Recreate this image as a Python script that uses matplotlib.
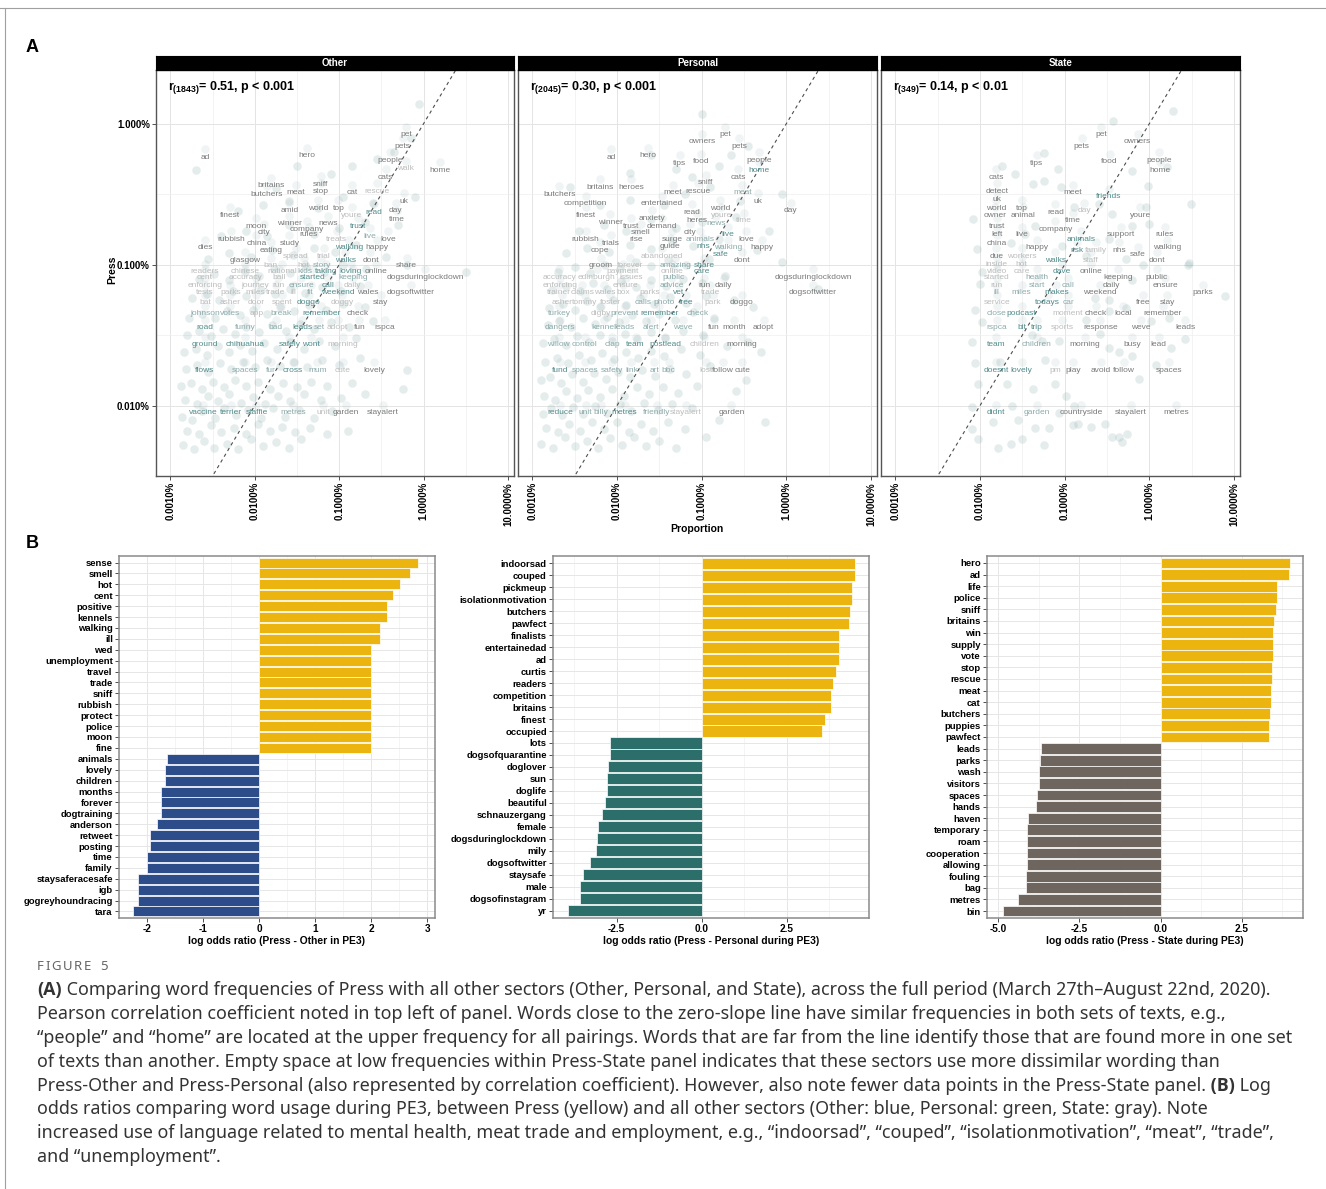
import numpy as np
import matplotlib.pyplot as plt
from matplotlib import transforms
from matplotlib.lines import Line2D

plt.rcParams['font.family'] = ['Liberation Sans', 'DejaVu Sans']
plt.rcParams['mathtext.fontset'] = 'custom'
plt.rcParams['mathtext.rm'] = 'Liberation Sans'
plt.rcParams['mathtext.bf'] = 'Liberation Sans:bold'

# ---------------- panel A data: log10(proportion), x = other sector, y = Press
# tone: t = close to the line (teal), m = in between, l = light grey, g = far from the line
other_words = [
    ('ad', -4.59, -2.24, 'g'), ('hero', -3.38, -2.23, 'g'), ('pet', -2.21, -2.08, 'g'), ('pets', -2.25, -2.16, 'g'),
    ('people', -2.40, -2.26, 'g'), ('walk', -2.21, -2.32, 'l'), ('home', -1.81, -2.33, 'g'), ('cats', -2.45, -2.38, 'g'),
    ('britains', -3.81, -2.44, 'g'), ('butchers', -3.86, -2.50, 'g'), ('meat', -3.51, -2.49, 'g'), ('sniff', -3.22, -2.43, 'g'),
    ('stop', -3.22, -2.48, 'g'), ('cat', -2.85, -2.49, 'g'), ('rescue', -2.55, -2.48, 'l'), ('uk', -2.23, -2.55, 'g'),
    ('finest', -4.29, -2.65, 'g'), ('amid', -3.59, -2.62, 'g'), ('world', -3.25, -2.60, 'g'), ('top', -3.01, -2.60, 'g'),
    ('youre', -2.85, -2.65, 'l'), ('read', -2.59, -2.63, 't'), ('day', -2.33, -2.62, 'g'), ('time', -2.32, -2.68, 'g'),
    ('moon', -3.99, -2.73, 'g'), ('city', -3.89, -2.77, 'g'), ('winner', -3.59, -2.71, 'g'), ('news', -3.13, -2.71, 'g'),
    ('company', -3.38, -2.75, 'g'), ('rules', -3.36, -2.79, 'g'), ('trust', -2.78, -2.73, 't'), ('rubbish', -4.28, -2.82, 'g'),
    ('china', -3.98, -2.85, 'g'), ('study', -3.59, -2.85, 'g'), ('treats', -3.03, -2.82, 'l'), ('live', -2.64, -2.80, 'm'),
    ('love', -2.42, -2.82, 'g'), ('dies', -4.59, -2.88, 'g'), ('eating', -3.81, -2.90, 'g'), ('spread', -3.51, -2.94, 'l'),
    ('trial', -3.18, -2.94, 'l'), ('walking', -2.88, -2.88, 't'), ('happy', -2.55, -2.88, 'g'), ('glasgow', -4.11, -2.97, 'g'),
    ('walks', -2.93, -2.97, 't'), ('dont', -2.63, -2.97, 'g'), ('ban', -3.81, -3.01, 'l'), ('hot', -3.42, -3.01, 'l'),
    ('story', -3.21, -3.01, 'm'), ('share', -2.20, -3.01, 'g'),
    ('readers', -4.59, -3.05, 'l'), ('chinese', -4.11, -3.05, 'l'), ('national', -3.68, -3.05, 'l'), ('kids', -3.41, -3.05, 'm'),
    ('taking', -3.16, -3.05, 't'), ('loving', -2.86, -3.05, 't'), ('online', -2.57, -3.05, 'g'), ('cent', -4.59, -3.09, 'l'),
    ('accuracy', -4.11, -3.09, 'l'), ('ball', -3.71, -3.09, 'l'), ('started', -3.31, -3.09, 't'), ('keeping', -2.84, -3.09, 'm'),
    ('dogsduringlockdown', -1.98, -3.09, 'g'), ('enforcing', -4.59, -3.15, 'l'), ('journey', -3.99, -3.15, 'l'), ('run', -3.72, -3.15, 'l'),
    ('ensure', -3.45, -3.15, 'm'), ('call', -3.13, -3.15, 't'), ('daily', -2.84, -3.15, 'l'), ('tests', -4.59, -3.20, 'l'),
    ('parks', -4.29, -3.20, 'l'), ('miles', -3.99, -3.20, 'l'), ('trade', -3.75, -3.20, 'l'), ('ill', -3.54, -3.20, 'l'),
    ('fit', -3.34, -3.20, 'm'), ('weekend', -3.02, -3.20, 't'), ('wales', -2.66, -3.20, 'g'), ('dogsoftwitter', -2.15, -3.20, 'g'),
    ('bat', -4.59, -3.27, 'l'), ('asher', -4.29, -3.27, 'l'), ('door', -3.98, -3.27, 'l'), ('spent', -3.68, -3.27, 'l'),
    ('doggo', -3.36, -3.27, 't'), ('doggy', -2.97, -3.27, 'l'), ('stay', -2.51, -3.27, 'g'), ('johnson', -4.59, -3.35, 'm'),
    ('votes', -4.29, -3.35, 'm'), ('app', -3.98, -3.35, 'l'), ('break', -3.69, -3.35, 'm'), ('remember', -3.21, -3.35, 't'),
    ('check', -2.78, -3.35, 'g'), ('road', -4.59, -3.45, 't'), ('funny', -4.11, -3.45, 'm'), ('bad', -3.75, -3.45, 'm'),
    ('leads', -3.44, -3.45, 't'), ('set', -3.24, -3.45, 'm'), ('adopt', -3.02, -3.45, 'l'), ('fun', -2.76, -3.45, 'g'),
    ('rspca', -2.46, -3.45, 'g'), ('ground', -4.59, -3.57, 't'), ('chihuahua', -4.11, -3.57, 't'), ('safely', -3.59, -3.57, 't'),
    ('wont', -3.33, -3.57, 't'), ('morning', -2.96, -3.57, 'l'), ('flows', -4.59, -3.75, 't'), ('spaces', -4.11, -3.75, 'm'),
    ('fur', -3.81, -3.75, 'm'), ('cross', -3.55, -3.75, 't'), ('mum', -3.26, -3.75, 'm'), ('cute', -2.96, -3.75, 'l'),
    ('lovely', -2.59, -3.75, 'g'), ('vaccine', -4.61, -4.05, 't'), ('terrier', -4.28, -4.05, 't'), ('staffie', -3.98, -4.05, 't'),
    ('metres', -3.55, -4.05, 'm'), ('unit', -3.19, -4.05, 'l'), ('garden', -2.92, -4.05, 'g'), ('stayalert', -2.48, -4.05, 'g'),
]

other_cloud = [
    (-4.85, -4.28), (-4.72, -4.31), (-4.6, -4.25), (-4.48, -4.3), (-4.33, -4.27), (-4.2, -4.31), (-4.05, -4.24), (-3.9, -4.29),
    (-3.75, -4.26), (-3.6, -4.3), (-3.45, -4.24), (-4.8, -4.18), (-4.66, -4.2), (-4.52, -4.14), (-4.4, -4.19), (-4.25, -4.16),
    (-4.1, -4.2), (-3.96, -4.13), (-3.82, -4.18), (-3.68, -4.15), (-3.52, -4.19), (-3.35, -4.16), (-3.15, -4.2), (-2.9, -4.18),
    (-4.86, -4.08), (-4.74, -4.1), (-4.62, -4.04), (-4.47, -4.09), (-4.36, -4.02), (-4.22, -4.07), (-4.08, -4.03), (-3.93, -4.09),
    (-3.79, -4.02), (-3.64, -4.08), (-3.48, -4.03), (-3.3, -4.09), (-3.08, -4.04), (-4.83, -3.96), (-4.69, -3.99), (-4.56, -3.93),
    (-4.43, -3.97), (-4.3, -3.92), (-4.16, -3.98), (-4.02, -3.94), (-3.88, -3.99), (-3.73, -3.93), (-3.58, -3.97), (-3.42, -3.92),
    (-3.22, -3.96), (-2.98, -3.95), (-2.7, -3.92), (-4.87, -3.86), (-4.76, -3.84), (-4.63, -3.88), (-4.5, -3.83), (-4.37, -3.87),
    (-4.24, -3.82), (-4.1, -3.86), (-3.96, -3.83), (-3.82, -3.88), (-3.67, -3.84), (-3.5, -3.87), (-3.34, -3.83), (-3.14, -3.86),
    (-2.85, -3.84), (-4.82, -3.74), (-4.68, -3.71), (-4.55, -3.76), (-4.41, -3.7), (-4.28, -3.74), (-4.14, -3.69), (-4.0, -3.73),
    (-3.86, -3.68), (-3.7, -3.72), (-3.54, -3.69), (-3.38, -3.73), (-3.2, -3.68), (-3.0, -3.71), (-2.75, -3.66), (-4.84, -3.62),
    (-4.7, -3.6), (-4.57, -3.64), (-4.44, -3.58), (-4.3, -3.62), (-4.17, -3.57), (-4.03, -3.61), (-3.89, -3.56), (-3.74, -3.6),
    (-3.58, -3.55), (-3.42, -3.6), (-3.24, -3.54), (-3.05, -3.58), (-2.8, -3.52), (-4.8, -3.5), (-4.66, -3.47), (-4.52, -3.51),
    (-4.38, -3.46), (-4.24, -3.49), (-4.1, -3.44), (-3.95, -3.48), (-3.8, -3.43), (-3.63, -3.47), (-3.47, -3.42), (-3.3, -3.46),
    (-3.1, -3.41), (-2.88, -3.44), (-2.6, -3.4), (-4.78, -3.38), (-4.62, -3.35), (-4.47, -3.38), (-4.33, -3.33), (-4.18, -3.36),
    (-4.02, -3.32), (-3.86, -3.35), (-3.7, -3.3), (-3.53, -3.33), (-3.36, -3.29), (-3.16, -3.32), (-2.95, -3.28), (-2.7, -3.3),
    (-4.74, -3.24), (-4.57, -3.21), (-4.42, -3.25), (-4.26, -3.19), (-4.1, -3.22), (-3.93, -3.18), (-3.76, -3.21), (-3.58, -3.17),
    (-3.4, -3.2), (-3.2, -3.16), (-2.98, -3.19), (-2.75, -3.15), (-4.66, -3.1), (-4.48, -3.07), (-4.3, -3.11), (-4.12, -3.05),
    (-3.95, -3.08), (-3.77, -3.03), (-3.58, -3.06), (-3.39, -3.02), (-3.18, -3.05), (-2.95, -3.0), (-2.68, -3.03), (-4.55, -2.96),
    (-4.3, -2.92), (-4.05, -2.95), (-3.8, -2.9), (-3.55, -2.93), (-3.3, -2.88), (-3.05, -2.91), (-2.8, -2.86), (-2.45, -2.95),
    (-2.2, -3.0), (-4.4, -2.8), (-4.1, -2.76), (-3.85, -2.8), (-3.6, -2.72), (-3.3, -2.78), (-3.0, -2.74), (-2.7, -2.7),
    (-2.3, -2.72), (-4.2, -2.62), (-3.9, -2.58), (-3.6, -2.55), (-3.25, -2.6), (-2.95, -2.52), (-2.6, -2.56), (-2.1, -2.52),
    (-4.7, -2.33), (-3.75, -2.46), (-3.5, -2.3), (-3.1, -2.36), (-2.85, -2.3), (-2.55, -2.25), (-2.35, -2.2), (-2.15, -2.1),
    (-2.05, -1.86), (-1.5, -3.05), (-2.2, -3.75), (-2.25, -3.88),
]

personal_words = [
    ('pet', -2.72, -2.08, 'g'), ('owners', -3.00, -2.13, 'g'), ('pets', -2.56, -2.16, 'g'), ('ad', -4.07, -2.24, 'g'),
    ('hero', -3.64, -2.23, 'g'), ('tips', -3.26, -2.28, 'g'), ('food', -3.01, -2.27, 'g'), ('people', -2.32, -2.26, 'g'),
    ('home', -2.32, -2.33, 't'), ('cats', -2.57, -2.38, 'g'), ('britains', -4.20, -2.45, 'g'), ('heroes', -3.83, -2.45, 'g'),
    ('sniff', -2.95, -2.42, 'g'), ('butchers', -4.68, -2.50, 'g'), ('meet', -3.34, -2.49, 'g'), ('rescue', -3.04, -2.48, 'g'),
    ('meat', -2.52, -2.49, 'm'), ('uk', -2.34, -2.55, 'g'), ('competition', -4.37, -2.57, 'g'), ('entertained', -3.47, -2.57, 'g'),
    ('day', -1.95, -2.62, 'g'), ('finest', -4.37, -2.65, 'g'), ('read', -3.12, -2.63, 'g'), ('world', -2.78, -2.60, 'g'),
    ('youre', -2.77, -2.65, 'l'), ('anxiety', -3.59, -2.67, 'g'), ('heres', -3.06, -2.69, 'g'), ('news', -2.83, -2.71, 'm'),
    ('time', -2.50, -2.69, 'l'), ('winner', -4.08, -2.70, 'g'), ('trust', -3.84, -2.73, 'g'), ('demand', -3.47, -2.73, 'g'),
    ('smell', -3.72, -2.77, 'g'), ('city', -3.14, -2.77, 'g'), ('rubbish', -4.37, -2.82, 'g'), ('trials', -4.07, -2.85, 'g'),
    ('rise', -3.77, -2.82, 'g'), ('surge', -3.35, -2.82, 'g'), ('animals', -3.02, -2.82, 'm'), ('live', -2.69, -2.79, 't'),
    ('love', -2.48, -2.82, 'g'), ('guide', -3.37, -2.87, 'g'), ('cope', -4.20, -2.90, 'g'), ('nhs', -2.98, -2.87, 't'),
    ('walking', -2.69, -2.88, 'm'), ('happy', -2.29, -2.88, 'g'), ('abandoned', -3.47, -2.94, 'l'), ('safe', -2.78, -2.93, 't'),
    ('dont', -2.52, -2.97, 'g'), ('groom', -4.19, -3.01, 'g'), ('forever', -3.85, -3.01, 'l'), ('amazing', -3.31, -3.01, 'm'),
    ('share', -2.97, -3.01, 't'),
    ('payment', -3.93, -3.05, 'l'), ('online', -3.35, -3.05, 'l'), ('care', -3.00, -3.05, 't'), ('accuracy', -4.68, -3.09, 'l'),
    ('edinburgh', -4.24, -3.09, 'l'), ('issues', -3.83, -3.09, 'l'), ('public', -3.33, -3.09, 'm'), ('dogsduringlockdown', -1.68, -3.09, 'g'),
    ('enforcing', -4.67, -3.15, 'l'), ('ensure', -3.90, -3.15, 'l'), ('advice', -3.35, -3.15, 'm'), ('run', -2.97, -3.15, 'g'),
    ('daily', -2.74, -3.15, 'g'), ('trainer', -4.69, -3.20, 'l'), ('claims', -4.41, -3.20, 'l'), ('wales', -4.15, -3.20, 'l'),
    ('box', -3.93, -3.20, 'l'), ('parks', -3.61, -3.20, 'l'), ('vet', -3.27, -3.20, 't'), ('trade', -2.90, -3.20, 'l'),
    ('dogsoftwitter', -1.69, -3.20, 'g'), ('asher', -4.65, -3.27, 'l'), ('tommy', -4.38, -3.27, 'l'), ('foster', -4.08, -3.27, 'l'),
    ('calls', -3.69, -3.27, 'm'), ('photo', -3.44, -3.27, 'm'), ('free', -3.18, -3.27, 't'), ('park', -2.87, -3.27, 'l'),
    ('doggo', -2.53, -3.27, 'g'), ('turkey', -4.68, -3.35, 'm'), ('digby', -4.19, -3.35, 'l'), ('prevent', -3.91, -3.35, 'm'),
    ('remember', -3.50, -3.35, 't'), ('check', -3.05, -3.35, 'm'), ('dangers', -4.67, -3.45, 'm'), ('kennel', -4.15, -3.45, 'm'),
    ('leads', -3.91, -3.45, 'm'), ('alert', -3.60, -3.45, 'm'), ('weve', -3.22, -3.45, 'm'), ('fun', -2.86, -3.45, 'g'),
    ('month', -2.62, -3.45, 'g'), ('adopt', -2.27, -3.45, 'g'), ('willow', -4.69, -3.57, 'm'), ('control', -4.38, -3.57, 'm'),
    ('clap', -4.06, -3.57, 'm'), ('team', -3.78, -3.57, 't'), ('postlead', -3.43, -3.57, 't'), ('children', -2.97, -3.57, 'l'),
    ('morning', -2.53, -3.57, 'g'), ('fund', -4.67, -3.75, 't'), ('spaces', -4.38, -3.75, 'm'), ('safety', -4.06, -3.75, 'm'),
    ('link', -3.83, -3.75, 'm'), ('art', -3.56, -3.75, 'm'), ('bbc', -3.39, -3.75, 'm'), ('lost', -2.95, -3.75, 'l'),
    ('follow', -2.75, -3.75, 'g'), ('cute', -2.52, -3.75, 'g'), ('reduce', -4.67, -4.05, 't'), ('unit', -4.37, -4.05, 'm'),
    ('billy', -4.19, -4.05, 'm'), ('metres', -3.91, -4.05, 't'), ('friendly', -3.53, -4.05, 'm'), ('stayalert', -3.19, -4.05, 'l'),
    ('garden', -2.65, -4.05, 'g'),
]

personal_cloud = [
    (-4.9, -4.27), (-4.76, -4.3), (-4.62, -4.22), (-4.5, -4.29), (-4.36, -4.25), (-4.22, -4.3), (-4.08, -4.23), (-3.94, -4.28),
    (-3.8, -4.22), (-3.66, -4.29), (-3.5, -4.25), (-3.3, -4.3), (-4.84, -4.16), (-4.7, -4.19), (-4.57, -4.13), (-4.44, -4.18),
    (-4.3, -4.12), (-4.15, -4.17), (-4.0, -4.12), (-3.86, -4.19), (-3.72, -4.13), (-3.57, -4.18), (-3.4, -4.12), (-3.2, -4.17),
    (-2.95, -4.22), (-4.88, -4.06), (-4.78, -4.02), (-4.65, -4.07), (-4.52, -4.01), (-4.4, -4.06), (-4.26, -4.0), (-4.12, -4.05),
    (-3.97, -3.99), (-3.83, -4.04), (-3.68, -3.98), (-3.52, -4.03), (-3.35, -3.99), (-3.12, -4.02), (-2.8, -4.1), (-4.86, -3.93),
    (-4.73, -3.96), (-4.6, -3.9), (-4.47, -3.95), (-4.34, -3.89), (-4.2, -3.94), (-4.06, -3.88), (-3.92, -3.93), (-3.77, -3.87),
    (-3.62, -3.92), (-3.46, -3.87), (-3.28, -3.91), (-3.05, -3.86), (-2.6, -3.9), (-4.9, -3.82), (-4.79, -3.8), (-4.66, -3.84),
    (-4.53, -3.78), (-4.4, -3.83), (-4.27, -3.77), (-4.13, -3.81), (-3.99, -3.76), (-3.85, -3.8), (-3.7, -3.75), (-3.55, -3.79),
    (-3.38, -3.74), (-3.18, -3.78), (-2.9, -3.72), (-4.85, -3.69), (-4.71, -3.66), (-4.58, -3.7), (-4.45, -3.64), (-4.31, -3.68),
    (-4.18, -3.63), (-4.04, -3.67), (-3.9, -3.62), (-3.75, -3.66), (-3.6, -3.61), (-3.44, -3.65), (-3.25, -3.6), (-3.02, -3.64),
    (-2.7, -3.58), (-4.87, -3.56), (-4.74, -3.53), (-4.6, -3.57), (-4.47, -3.51), (-4.33, -3.55), (-4.2, -3.5), (-4.06, -3.54),
    (-3.91, -3.49), (-3.76, -3.53), (-3.6, -3.48), (-3.43, -3.52), (-3.22, -3.47), (-2.98, -3.5), (-2.45, -3.55), (-4.82, -3.43),
    (-4.68, -3.4), (-4.54, -3.44), (-4.4, -3.38), (-4.26, -3.42), (-4.12, -3.37), (-3.98, -3.41), (-3.82, -3.36), (-3.66, -3.4),
    (-3.5, -3.35), (-3.32, -3.39), (-3.1, -3.34), (-2.85, -3.38), (-2.4, -3.3), (-4.8, -3.31), (-4.64, -3.28), (-4.5, -3.32),
    (-4.35, -3.26), (-4.2, -3.3), (-4.05, -3.25), (-3.9, -3.29), (-3.73, -3.24), (-3.56, -3.28), (-3.38, -3.23), (-3.18, -3.27),
    (-2.95, -3.22), (-2.62, -3.25), (-4.77, -3.18), (-4.6, -3.15), (-4.44, -3.19), (-4.28, -3.13), (-4.12, -3.17), (-3.95, -3.12),
    (-3.78, -3.16), (-3.6, -3.11), (-3.42, -3.15), (-3.22, -3.1), (-3.0, -3.13), (-2.72, -3.08), (-4.7, -3.05), (-4.5, -3.02),
    (-4.32, -3.06), (-4.14, -3.0), (-3.96, -3.03), (-3.78, -2.98), (-3.6, -3.01), (-3.4, -2.97), (-3.18, -3.0), (-2.92, -2.96),
    (-4.6, -2.92), (-4.35, -2.88), (-4.1, -2.91), (-3.85, -2.86), (-3.6, -2.89), (-3.35, -2.84), (-3.1, -2.87), (-2.8, -2.82),
    (-2.35, -2.9), (-2.05, -2.98), (-4.45, -2.76), (-4.15, -2.72), (-3.9, -2.76), (-3.6, -2.68), (-3.3, -2.74), (-3.0, -2.7),
    (-2.6, -2.66), (-2.2, -2.76), (-4.55, -2.45), (-4.2, -2.58), (-3.85, -2.54), (-3.45, -2.58), (-3.2, -2.5), (-2.9, -2.45),
    (-2.55, -2.55), (-2.05, -2.5), (-3.85, -2.35), (-3.6, -2.22), (-3.3, -2.32), (-3.12, -2.38), (-2.8, -2.3), (-2.65, -2.22),
    (-2.45, -2.16), (-3.0, -1.93), (-1.63, -3.17), (-2.3, -3.62), (-2.48, -3.82), (-2.25, -4.12),
]

state_words = [
    ('pet', -2.57, -2.08, 'g'), ('owners', -2.14, -2.13, 'g'), ('pets', -2.80, -2.16, 'g'), ('tips', -3.33, -2.28, 'g'),
    ('food', -2.47, -2.27, 'g'), ('people', -1.89, -2.26, 'g'), ('home', -1.87, -2.33, 'g'), ('cats', -3.81, -2.38, 'g'),
    ('detect', -3.80, -2.48, 'g'), ('meet', -2.90, -2.49, 'g'), ('friends', -2.48, -2.52, 't'), ('uk', -3.80, -2.54, 'g'),
    ('world', -3.81, -2.60, 'g'), ('top', -3.51, -2.60, 'g'), ('owner', -3.82, -2.65, 'g'), ('animal', -3.49, -2.65, 'g'),
    ('read', -3.11, -2.63, 'g'), ('day', -2.77, -2.62, 'l'), ('time', -2.90, -2.69, 'g'), ('youre', -2.11, -2.65, 'g'),
    ('trust', -3.80, -2.73, 'g'), ('company', -3.11, -2.75, 'g'), ('left', -3.80, -2.79, 'g'), ('china', -3.80, -2.85, 'g'),
    ('live', -3.51, -2.79, 'g'), ('animals', -2.81, -2.82, 't'), ('support', -2.34, -2.79, 'g'), ('rules', -1.82, -2.79, 'g'),
    ('happy', -3.33, -2.88, 'g'), ('risk', -2.85, -2.90, 't'), ('family', -2.63, -2.90, 'l'), ('nhs', -2.36, -2.90, 'g'),
    ('safe', -2.14, -2.93, 'g'), ('walking', -1.79, -2.88, 'g'), ('due', -3.81, -2.94, 'g'), ('workers', -3.51, -2.94, 'l'),
    ('walks', -3.11, -2.97, 't'), ('staff', -2.69, -2.97, 'l'), ('dont', -1.91, -2.97, 'g'),
    ('inside', -3.80, -3.00, 'l'), ('hot', -3.51, -3.00, 'l'), ('video', -3.80, -3.05, 'l'), ('care', -3.51, -3.05, 'l'),
    ('dave', -3.03, -3.05, 't'), ('online', -2.69, -3.05, 'g'), ('started', -3.80, -3.09, 'l'), ('health', -3.33, -3.09, 'm'),
    ('keeping', -2.37, -3.09, 'g'), ('public', -1.91, -3.09, 'g'), ('run', -3.80, -3.15, 'l'), ('start', -3.33, -3.15, 'm'),
    ('call', -2.96, -3.15, 'm'), ('daily', -2.45, -3.15, 'g'), ('ensure', -1.81, -3.15, 'g'), ('ill', -3.81, -3.20, 'm'),
    ('miles', -3.51, -3.20, 'm'), ('makes', -3.10, -3.20, 't'), ('weekend', -2.58, -3.20, 'g'), ('parks', -1.37, -3.20, 'g'),
    ('service', -3.80, -3.27, 'l'), ('todays', -3.20, -3.27, 't'), ('car', -2.96, -3.27, 'm'), ('free', -2.08, -3.27, 'g'),
    ('stay', -1.79, -3.27, 'g'), ('close', -3.80, -3.35, 'm'), ('podcast', -3.51, -3.35, 't'), ('moment', -2.96, -3.35, 'l'),
    ('check', -2.63, -3.35, 'g'), ('local', -2.31, -3.35, 'g'), ('remember', -1.84, -3.35, 'g'), ('rspca', -3.80, -3.45, 'm'),
    ('bit', -3.50, -3.45, 't'), ('trip', -3.33, -3.45, 't'), ('sports', -3.03, -3.45, 'l'), ('response', -2.58, -3.45, 'g'),
    ('weve', -2.10, -3.45, 'g'), ('leads', -1.58, -3.45, 'g'), ('team', -3.81, -3.57, 't'), ('children', -3.33, -3.57, 'm'),
    ('morning', -2.76, -3.57, 'g'), ('busy', -2.20, -3.57, 'g'), ('lead', -1.89, -3.57, 'g'), ('doesnt', -3.81, -3.75, 't'),
    ('lovely', -3.51, -3.75, 't'), ('pm', -3.11, -3.75, 'l'), ('play', -2.90, -3.75, 'g'), ('avoid', -2.57, -3.75, 'g'),
    ('follow', -2.30, -3.75, 'g'), ('spaces', -1.77, -3.75, 'g'), ('didnt', -3.81, -4.05, 't'), ('garden', -3.33, -4.05, 'm'),
    ('countryside', -2.81, -4.05, 'g'), ('stayalert', -2.22, -4.05, 'g'), ('metres', -1.68, -4.05, 'g'),
]

state_cloud = [
    (-4.10, -3.55), (-4.06, -3.70), (-4.02, -3.85), (-4.09, -4.01), (-4.09, -4.17), (-4.02, -4.24), (-3.79, -4.30), (-3.64, -4.27),
    (-3.50, -4.24), (-3.35, -4.16), (-3.19, -4.16), (-2.90, -4.14), (-2.84, -4.13), (-2.69, -4.15), (-2.52, -4.13), (-2.44, -4.22),
    (-2.36, -4.22), (-2.26, -4.20), (-2.32, -4.26), (-2.99, -3.93), (-2.89, -4.00), (-3.07, -4.05), (-3.37, -3.88), (-3.11, -3.85),
    (-3.68, -3.85), (-3.62, -4.00), (-3.76, -3.69), (-3.23, -3.68), (-2.36, -3.62), (-2.20, -3.65), (-2.12, -3.81), (-1.92, -3.71),
    (-1.75, -3.59), (-1.58, -3.53), (-3.39, -3.50), (-3.27, -3.54), (-3.07, -3.54), (-2.58, -3.49), (-2.48, -3.59), (-1.55, -3.00),
    (-1.11, -3.22), (-3.98, -3.41), (-4.06, -3.32), (-4.00, -3.14), (-3.98, -3.05), (-2.20, -3.11), (-2.28, -3.31), (-2.48, -3.33),
    (-2.75, -3.39), (-1.98, -3.40), (-1.77, -3.38), (-2.64, -3.24), (-2.48, -3.25), (-2.43, -1.98), (-1.72, -1.91), (-3.24, -2.21),
    (-3.08, -2.32), (-3.74, -2.30), (-3.59, -2.36), (-3.37, -2.43), (-3.25, -2.41), (-3.05, -2.45), (-2.20, -2.34), (-2.02, -2.44),
    (-1.79, -2.31), (-1.51, -2.57), (-1.53, -2.99), (-2.89, -2.59), (-2.60, -2.57), (-2.44, -2.64), (-2.04, -2.59), (-2.00, -2.71),
    (-2.20, -2.73), (-2.48, -2.82), (-3.47, -2.78), (-3.35, -2.73), (-3.64, -2.85), (-3.03, -2.87), (-2.75, -2.94), (-2.28, -2.96),
    (-2.08, -3.00), (-4.08, -2.68), (-4.04, -2.89), (-3.55, -4.10), (-3.25, -4.28), (-3.85, -4.12),
]

# ---------------- panel B data: log odds ratios during PE3
other_terms = ['sense', 'smell', 'hot', 'cent', 'positive', 'kennels', 'walking', 'ill', 'wed', 'unemployment',
               'travel', 'trade', 'sniff', 'rubbish', 'protect', 'police', 'moon', 'fine', 'animals', 'lovely',
               'children', 'months', 'forever', 'dogtraining', 'anderson', 'retweet', 'posting', 'time', 'family',
               'staysaferacesafe', 'igb', 'gogreyhoundracing', 'tara']
other_lor = [2.84, 2.69, 2.51, 2.39, 2.28, 2.28, 2.15, 2.15, 1.99, 1.99, 1.99, 1.99, 1.99, 1.99, 1.99, 1.99, 1.99, 1.99,
             -1.64, -1.68, -1.68, -1.75, -1.75, -1.75, -1.82, -1.95, -1.95, -2.00, -2.00, -2.16, -2.16, -2.16, -2.25]

personal_terms = ['indoorsad', 'couped', 'pickmeup', 'isolationmotivation', 'butchers', 'pawfect', 'finalists',
                  'entertainedad', 'ad', 'curtis', 'readers', 'competition', 'britains', 'finest', 'occupied', 'lots',
                  'dogsofquarantine', 'doglover', 'sun', 'doglife', 'beautiful', 'schnauzergang', 'female',
                  'dogsduringlockdown', 'mily', 'dogsoftwitter', 'staysafe', 'male', 'dogsofinstagram', 'yr']
personal_lor = [4.51, 4.51, 4.41, 4.41, 4.35, 4.32, 4.03, 4.03, 4.03, 3.95, 3.86, 3.79, 3.79, 3.63, 3.55,
                -2.68, -2.70, -2.75, -2.79, -2.79, -2.84, -2.94, -3.05, -3.08, -3.11, -3.27, -3.49, -3.57, -3.57, -3.93]

state_terms = ['hero', 'ad', 'life', 'police', 'sniff', 'britains', 'win', 'supply', 'vote', 'stop', 'rescue', 'meat',
               'cat', 'butchers', 'puppies', 'pawfect', 'leads', 'parks', 'wash', 'visitors', 'spaces', 'hands', 'haven',
               'temporary', 'roam', 'cooperation', 'allowing', 'fouling', 'bag', 'metres', 'bin']
state_lor = [3.98, 3.97, 3.60, 3.58, 3.55, 3.51, 3.48, 3.48, 3.46, 3.43, 3.43, 3.40, 3.40, 3.37, 3.34, 3.34,
             -3.70, -3.72, -3.76, -3.76, -3.80, -3.83, -4.10, -4.13, -4.13, -4.13, -4.13, -4.15, -4.15, -4.40, -4.87]

caption_lines = [
    [('(A)', True), (' Comparing word frequencies of Press with all other sectors (Other, Personal, and State), across the full period (March 27th\u2013August 22nd, 2020).', False)],
    [('Pearson correlation coefficient noted in top left of panel. Words close to the zero-slope line have similar frequencies in both sets of texts, e.g.,', False)],
    [('\u201cpeople\u201d and \u201chome\u201d are located at the upper frequency for all pairings. Words that are far from the line identify those that are found more in one set', False)],
    [('of texts than another. Empty space at low frequencies within Press-State panel indicates that these sectors use more dissimilar wording than', False)],
    [('Press-Other and Press-Personal (also represented by correlation coefficient). However, also note fewer data points in the Press-State panel.', False), (' (B)', True), (' Log', False)],
    [('odds ratios comparing word usage during PE3, between Press (yellow) and all other sectors (Other: blue, Personal: green, State: gray). Note', False)],
    [('increased use of language related to mental health, meat trade and employment, e.g., \u201cindoorsad\u201d, \u201ccouped\u201d, \u201cisolationmotivation\u201d, \u201cmeat\u201d, \u201ctrade\u201d,', False)],
    [('and \u201cunemployment\u201d.', False)],
]

TONES = {'t': '#528B8B', 'm': '#8DAAAA', 'l': '#BDBDBD', 'g': '#7A7A7A'}
YELLOW = '#EBB40E'

W, H = 1326, 1189
fig = plt.figure(figsize=(W / 100, H / 100), dpi=100)


def px_rect(x0, y0, x1, y1):
    return [x0 / W, 1 - y1 / H, (x1 - x0) / W, (y1 - y0) / H]


def word_panel(x0, x1, title, corr, words, cloud, show_y):
    ax = fig.add_axes(px_rect(x0, 70, x1, 476))
    cx = 10.0 ** np.array([p[0] for p in cloud])
    cy = 10.0 ** np.array([p[1] for p in cloud])
    ax.scatter(cx, cy, s=38, color='#6F9A9A', alpha=0.18, linewidths=0, zorder=2)
    wx = 10.0 ** np.array([w[1] for w in words])
    wy = 10.0 ** np.array([w[2] for w in words])
    up = transforms.offset_copy(ax.transData, fig=fig, x=0, y=8, units='dots')
    ax.scatter(wx, wy, s=38, color='#8AA8A8', alpha=0.12, linewidths=0, transform=up, zorder=2)
    ax.plot([1e-7, 1], [1e-7, 1], color='#4D4D4D', lw=0.8, ls=(0, (3, 3)), zorder=3)
    for w, lx, ly, tone in words:
        ax.text(10 ** lx, 10 ** ly, w, color=TONES[tone], fontsize=6, ha='center', va='center', zorder=4)
    ax.set_xscale('log')
    ax.set_yscale('log')
    ax.set_xlim(10 ** -5.17, 10 ** -0.93)
    ax.set_ylim(10 ** -4.44, 10 ** -1.62)
    ax.set_xticks([1e-5, 1e-4, 1e-3, 1e-2, 1e-1],
                  ['0.0010%', '0.0100%', '0.1000%', '1.0000%', '10.0000%'],
                  rotation=90, fontsize=7, fontweight='bold')
    ax.set_xticks([10 ** -4.5, 10 ** -3.5, 10 ** -2.5, 10 ** -1.5], [''] * 4, minor=True)
    ax.set_yticks([10 ** -4.5, 10 ** -3.5, 10 ** -2.5], [''] * 3, minor=True)
    if show_y:
        ax.set_yticks([1e-4, 1e-3, 1e-2], ['0.010%', '0.100%', '1.000%'], fontsize=7, fontweight='bold')
        ax.tick_params(axis='y', which='major', length=3, width=0.6, color='#333333', pad=1.5)
    else:
        ax.set_yticks([1e-4, 1e-3, 1e-2], ['', '', ''])
        ax.tick_params(axis='y', which='major', length=0)
    ax.tick_params(axis='x', which='major', length=3, width=0.6, color='#333333', pad=1.5)
    ax.tick_params(which='minor', length=0)
    ax.grid(True, which='major', color='#E4E4E4', lw=0.7)
    ax.grid(True, which='minor', color='#EFEFEF', lw=0.5)
    ax.set_axisbelow(True)
    for sp in ax.spines.values():
        sp.set_color('#555555')
        sp.set_linewidth(1.0)
    ax.text(0.033, 0.958, corr, transform=ax.transAxes, fontsize=9, fontweight='bold', ha='left', va='center')
    sax = fig.add_axes(px_rect(x0, 55.7, x1, 70))
    sax.set_facecolor('black')
    sax.set_xticks([])
    sax.set_yticks([])
    sax.text(0.5, 0.5, title, color='white', fontsize=7, fontweight='bold', ha='center', va='center',
             transform=sax.transAxes)
    return ax


def bar_panel(x0, x1, terms, lor, neg_color, ticks, ticklabels, minors, xlim, xlabel):
    ax = fig.add_axes(px_rect(x0, 556, x1, 918))
    n = len(terms)
    pos = np.arange(n)[::-1]
    cols = [YELLOW if v > 0 else neg_color for v in lor]
    ax.barh(pos, lor, height=0.92, color=cols, edgecolor='white', linewidth=0.5, zorder=3)
    ax.set_ylim(-0.6, n - 0.4)
    ax.set_xlim(*xlim)
    ax.set_yticks(pos, terms, fontsize=6.8, fontweight='bold')
    ax.set_xticks(ticks, ticklabels, fontsize=7.2, fontweight='bold')
    ax.set_xticks(minors, [''] * len(minors), minor=True)
    ax.tick_params(which='major', length=3, width=0.6, color='#333333', pad=1.5)
    ax.tick_params(which='minor', length=0)
    ax.grid(True, which='major', color='#E6E6E6', lw=0.7)
    ax.grid(True, which='minor', axis='x', color='#F0F0F0', lw=0.5)
    ax.set_axisbelow(True)
    for sp in ax.spines.values():
        sp.set_color('#8A8A8A')
        sp.set_linewidth(1.1)
    ax.set_xlabel(xlabel, fontsize=7.4, fontweight='bold', labelpad=1)
    return ax


# ---------------- panel A
word_panel(156, 514, 'Other', r'$\mathbf{r}_{\mathbf{(1843)}}$= 0.51, p < 0.001', other_words, other_cloud, True)
word_panel(518, 877, 'Personal', r'$\mathbf{r}_{\mathbf{(2045)}}$= 0.30, p < 0.001', personal_words, personal_cloud, False)
word_panel(881, 1240, 'State', r'$\mathbf{r}_{\mathbf{(349)}}$= 0.14, p < 0.01', state_words, state_cloud, False)
fig.text(112 / W, 1 - 270 / H, 'Press', rotation=90, fontsize=7.5, fontweight='bold', ha='center', va='center')
fig.text(697 / W, 1 - 529 / H, 'Proportion', fontsize=7.5, fontweight='bold', ha='center', va='center')

# ---------------- panel B
bar_panel(119, 435, other_terms, other_lor, '#2D4C8A', [-2, -1, 0, 1, 2, 3], ['-2', '-1', '0', '1', '2', '3'],
          [-2.5, -1.5, -0.5, 0.5, 1.5, 2.5], (-2.46, 3.14), 'log odds ratio (Press - Other in PE3)')
bar_panel(553, 869, personal_terms, personal_lor, '#2C6E6A', [-2.5, 0, 2.5], ['-2.5', '0.0', '2.5'],
          [-3.75, -1.25, 1.25, 3.75], (-4.37, 4.92), 'log odds ratio (Press - Personal during PE3)')
bar_panel(987, 1303, state_terms, state_lor, '#6E665E', [-5, -2.5, 0, 2.5], ['-5.0', '-2.5', '0.0', '2.5'],
          [-3.75, -1.25, 1.25, 3.75], (-5.35, 4.39), 'log odds ratio (Press - State during PE3)')

# panel letters and frame
fig.text(32 / W, 1 - 47 / H, 'A', fontsize=13, fontweight='bold', ha='center', va='center')
fig.text(32 / W, 1 - 543 / H, 'B', fontsize=13, fontweight='bold', ha='center', va='center')
fig.add_artist(Line2D([0, 1], [1 - 8 / H, 1 - 8 / H], color='#A0A0A0', lw=0.8, transform=fig.transFigure))
fig.add_artist(Line2D([5 / W, 5 / W], [1 - 8 / H, 0], color='#A0A0A0', lw=0.8, transform=fig.transFigure))

# ---------------- caption
renderer = fig.canvas.get_renderer()
x = 37
for ch in 'FIGURE 5':
    t = fig.text(x / W, 1 - 966 / H, ch, fontsize=9.5, color='#666666', family='Noto Sans', ha='left', va='center')
    x = t.get_window_extent(renderer=renderer).x1 + 1.6
    if ch == ' ':
        x += 3

for i, parts in enumerate(caption_lines):
    y = 990 + 23.9 * i
    x = 37
    for txt, bold in parts:
        fam = ['Open Sans', 'DejaVu Sans'] if bold else ['Noto Sans', 'DejaVu Sans']
        t = fig.text(x / W, 1 - y / H, txt, fontsize=12.9, family=fam, color='#333333',
                     fontweight='bold' if bold else 'normal', ha='left', va='center')
        x = t.get_window_extent(renderer=renderer).x1

fig.savefig('out.png', dpi=100)
